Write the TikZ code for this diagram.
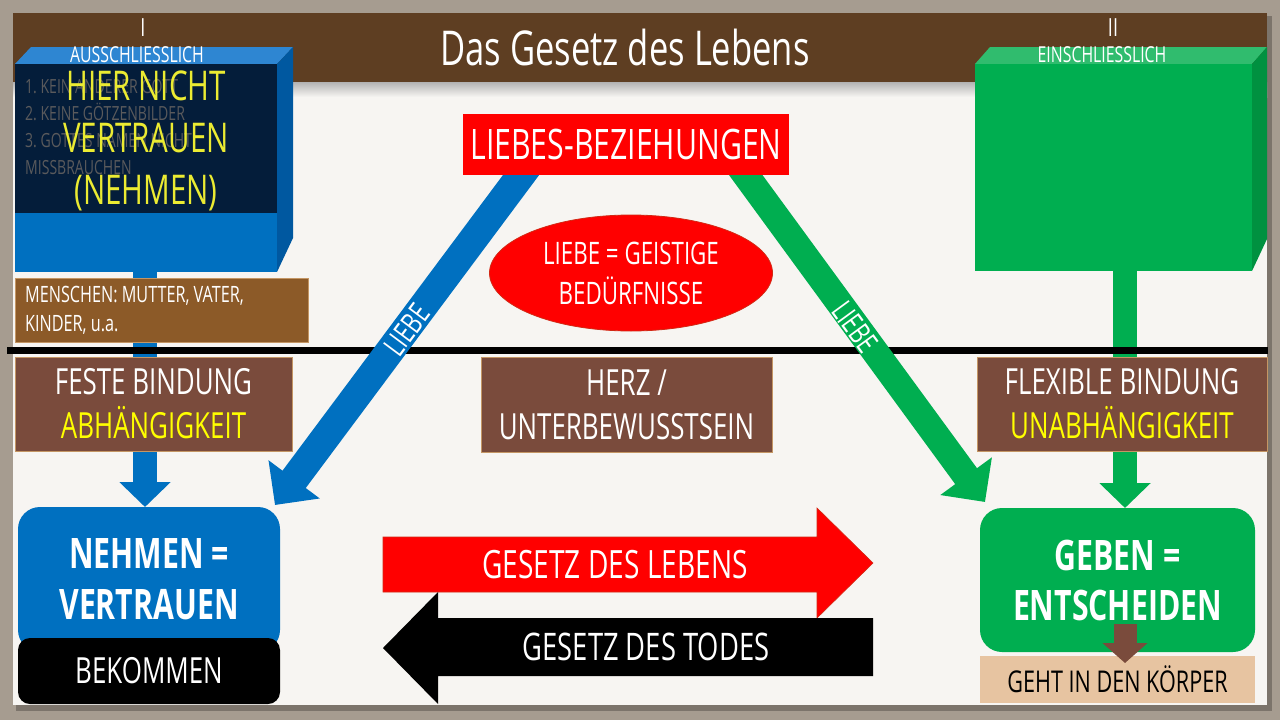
\documentclass[tikz,border=0pt]{standalone}
\usepackage{fontspec}
\setmainfont{Open Sans}[FakeStretch=0.72]
\frenchspacing
\usetikzlibrary{arrows.meta,shapes.geometric}
\definecolor{framec}{RGB}{166,156,144}
\definecolor{slidebg}{RGB}{247,245,242}
\definecolor{headbrown}{RGB}{94,62,34}
\definecolor{blueM}{RGB}{0,112,192}
\definecolor{blueTop}{RGB}{46,134,210}
\definecolor{blueSide}{RGB}{0,88,160}
\definecolor{navy}{RGB}{4,29,58}
\definecolor{greenM}{RGB}{0,174,80}
\definecolor{greenTop}{RGB}{48,188,110}
\definecolor{greenSide}{RGB}{0,145,64}
\definecolor{brownA}{RGB}{140,90,40}
\definecolor{brownB}{RGB}{122,75,60}
\definecolor{tanline}{RGB}{196,150,100}
\definecolor{tanbox}{RGB}{231,196,161}
\definecolor{yel}{RGB}{255,255,0}
\definecolor{yelB}{RGB}{235,235,50}
\definecolor{greytxt}{RGB}{90,90,92}
\definecolor{redM}{RGB}{255,0,0}
\definecolor{redB}{RGB}{210,40,20}
\newcommand{\fsz}[2]{\fontsize{#1}{#2}\selectfont}
\tikzset{
  boxnode/.style={inner sep=0pt, outer sep=0pt, anchor=north west},
  wtxt/.style={text=white, align=center, inner sep=0pt},
  brownbox/.style={boxnode, fill=brownB, draw=tanline, line width=0.8pt, text=white, align=center, font=\fsz{36}{44}},
  stemarrow/.style={line width=24pt, -{Triangle[width=50pt,length=25pt]}},
  diagarrow/.style={line width=29pt, -{Triangle[width=62pt,length=32pt]}},
}
\begin{document}
\begin{tikzpicture}[x=1pt,y=-1pt]
\useasboundingbox (0,0) rectangle (1280,720);
% frame and slide
\fill[framec] (0,0) rectangle (1280,720);
\fill[black,opacity=0.25] (16,16) rectangle (1272,711);
\fill[slidebg] (13,13) rectangle (1267,705);
\shade[top color=black!30, bottom color=slidebg] (13,82) rectangle (1267,97);
\fill[headbrown] (13,13) rectangle (1267,82);
\node[wtxt, font=\fsz{48}{52}] (title) at (625,47) {Das Gesetz des Lebens};
\node[wtxt, font=\fsz{25}{28}] (one) at (143,28) {I};
\node[wtxt, font=\fsz{25}{28}] (two) at (1113,28) {II};

% named positions for lower boxes
\node[boxnode, fill=blueM, rounded corners=22pt, minimum width=262pt, minimum height=145pt] (nehmen) at (18,507) {};
\node[boxnode, fill=greenM, rounded corners=22pt, minimum width=275pt, minimum height=144pt] (geben) at (980,508) {};

% stems
\node[boxnode, minimum width=262pt, minimum height=208pt] (lbox) at (15,64) {};
\node[boxnode, minimum width=277pt, minimum height=207pt] (rbox) at (975,64) {};
\coordinate (ls) at (145,272);
\coordinate (rs) at (1125,271);
\draw[blueM, stemarrow] (ls) -- (ls |- nehmen.north);
\draw[greenM, stemarrow] (rs) -- (rs |- geben.north);

% left 3D box
\fill[blueTop] (lbox.north west) -- ++(16,-17) -- ++(262,0) -- (lbox.north east) -- cycle;
\fill[blueSide] (lbox.north east) -- ++(16,-17) -- ++(0,191) -- (lbox.south east) -- cycle;
\fill[blueM] (lbox.north west) rectangle (lbox.south east);
\fill[navy] (lbox.north west) rectangle (277,213);
\node[wtxt, font=\fsz{22}{24}] (aus) at (137,55) {AUSSCHLIESSLICH};
\node[text=greytxt, align=left, inner sep=0pt, anchor=west, font=\fsz{19.5}{27}] (gebote) at (25,127) {1. KEIN ANDERER GOTT\\2. KEINE GÖTZENBILDER\\3. GOTTES NAMEN NICHT\\MISSBRAUCHEN};
\node[text=yelB, align=center, inner sep=0pt, font=\fsz{41}{52}] (hier) at (146,141) {HIER NICHT\\VERTRAUEN\\(NEHMEN)};

% right 3D box
\fill[greenTop] (rbox.north west) -- ++(15,-17) -- ++(277,0) -- (rbox.north east) -- cycle;
\fill[greenSide] (rbox.north east) -- ++(15,-17) -- ++(0,192) -- (rbox.south east) -- cycle;
\fill[greenM] (rbox.north west) rectangle (rbox.south east);
\node[wtxt, font=\fsz{22}{24}] (ein) at (1102,55) {EINSCHLIESSLICH};

% Menschen box
\node[boxnode, fill=brownA, draw=tanline, line width=0.8pt, minimum width=293pt, minimum height=64pt] (menschen) at (15,278) {};
\node[text=white, align=left, inner sep=0pt, anchor=west, font=\fsz{22.5}{29}] (menschentxt) at ([xshift=10pt]menschen.west) {MENSCHEN: MUTTER, VATER,\\KINDER, u.a.};

% horizontal line
\coordinate (hl) at (7,350);
\coordinate (hr) at (1268,350);
\draw[black, line width=7pt] (hl) -- (hr);

% brown boxes
\node[brownbox, minimum width=277pt, minimum height=94pt] (feste) at (15,357) {FESTE BINDUNG\\\textcolor{yel}{ABHÄNGIGKEIT}};
\node[brownbox, minimum width=291pt, minimum height=95pt] (herz) at (481,357) {HERZ /\\UNTERBEWUSSTSEIN};
\node[brownbox, minimum width=290pt, minimum height=94pt] (flex) at (977,357) {FLEXIBLE BINDUNG\\\textcolor{yel}{UNABHÄNGIGKEIT}};

% diagonal arrows
\coordinate (bstart) at (533,159);
\coordinate (bend) at (275,505);
\coordinate (gstart) at (734,159);
\coordinate (gend) at (985,502);
\draw[blueM, diagarrow] (bstart) -- (bend);
\draw[greenM, line width=27pt, -{Triangle[width=62pt,length=32pt]}] (gstart) -- (gend);
\node[wtxt, rotate=53.3, font=\fsz{30}{32}] (liebeL) at (407,330) {LIEBE};
\node[wtxt, rotate=-53.8, font=\fsz{30}{32}] (liebeR) at (855,327) {LIEBE};

% top red box and ellipse
\node[boxnode, fill=redM, minimum width=326pt, minimum height=61pt, text=white, font=\fsz{42}{46}] (lb) at (463,114) {LIEBES-BEZIEHUNGEN};
\node[ellipse, fill=redM, draw=redB, line width=0.8pt, minimum width=283pt, minimum height=116pt, inner sep=0pt, text=white, align=center, font=\fsz{31}{40}] (geist) at (631,273) {LIEBE = GEISTIGE\\BEDÜRFNISSE};

% lower boxes
\node[wtxt, font=\fsz{42}{51}\bfseries] (nehmentxt) at (nehmen.center) {NEHMEN =\\VERTRAUEN};
\node[boxnode, fill=black, rounded corners=12pt, minimum width=262pt, minimum height=66pt, text=white, font=\fsz{36}{40}] (bek) at (18,638) {BEKOMMEN};
\node[wtxt, font=\fsz{42}{50}\bfseries] (gebentxt) at (geben.center) {GEBEN =\\ENTSCHEIDEN};
\node[boxnode, fill=tanbox, minimum width=275pt, minimum height=47pt, text=black, font=\fsz{30}{34}] (geht) at (980,656) {GEHT IN DEN KÖRPER};
\coordinate (ks) at (1125,624);
\coordinate (ke) at (1125,663);
\draw[brownB, line width=23pt, -{Triangle[width=44pt,length=20pt]}] (ks) -- (ke);

% law arrows
\fill[redM, draw=redB, line width=0.6pt] (383,537) -- (817,537) -- (817,508) -- (873,563) -- (817,618) -- (817,592) -- (383,592) -- cycle;
\node[wtxt, font=\fsz{39}{40}] (leben) at (615,565) {GESETZ DES LEBENS};
\fill[black] (873,618) -- (438,618) -- (438,592) -- (383,648) -- (438,704) -- (438,676) -- (873,676) -- cycle;
\node[wtxt, font=\fsz{38}{40}] (tod) at (646,647) {GESETZ DES TODES};
\end{tikzpicture}
\end{document}
